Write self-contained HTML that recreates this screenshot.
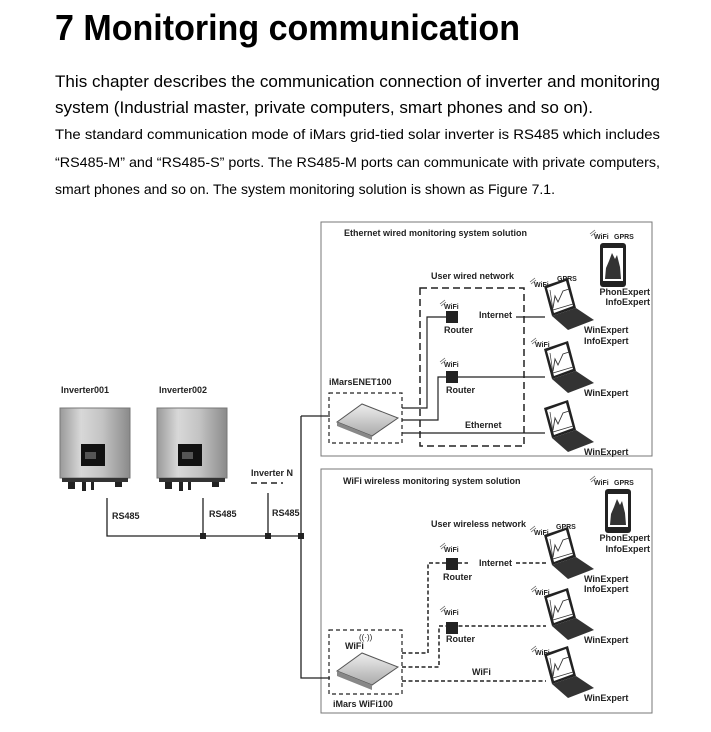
<!DOCTYPE html>
<html><head><meta charset="utf-8"><style>
html,body{margin:0;padding:0;background:#fff;width:711px;height:732px;overflow:hidden}
svg{display:block;font-family:"Liberation Sans",sans-serif}
</style></head><body>
<svg width="711" height="732" viewBox="0 0 711 732" xmlns="http://www.w3.org/2000/svg">
<defs>
<linearGradient id="inv" x1="0" x2="1"><stop offset="0" stop-color="#9a9a9a"/><stop offset="0.3" stop-color="#d8d8d8"/><stop offset="0.6" stop-color="#c4c4c4"/><stop offset="1" stop-color="#8a8a8a"/></linearGradient>
<linearGradient id="dev" x1="0" y1="0" x2="0" y2="1"><stop offset="0" stop-color="#eee"/><stop offset="1" stop-color="#aaa"/></linearGradient>
<g id="laptop">
<polygon points="4,8 28,0 36,30 12,38" fill="#222"/>
<polygon points="7,10 26,3 33,28 14,35" fill="#fff"/>
<polyline points="13,30 15,18 18,24 23,13 29,11" fill="none" stroke="#333" stroke-width="0.9"/>
<polyline points="10,12 13,32 33,26" fill="none" stroke="#333" stroke-width="0.7"/>
<polygon points="12,38 36,30 54,42 28,52" fill="#333"/>
</g>
<g id="inverter">
<rect x="0" y="0" width="70" height="70" fill="url(#inv)" stroke="#777"/>
<rect x="21" y="36" width="24" height="22" fill="#111"/>
<rect x="25" y="44" width="11" height="7" fill="#555"/>
<rect x="2" y="70" width="66" height="4" fill="#333"/>
<rect x="8" y="74" width="7" height="7" fill="#222"/><rect x="22" y="74" width="4" height="9" fill="#222"/><rect x="31" y="74" width="3" height="8" fill="#222"/><rect x="55" y="74" width="7" height="5" fill="#222"/>
</g>
<g id="wifi"><text x="4" y="9" font-size="7" font-weight="bold">WiFi</text><path d="M0,4 l5,-4 M1,6 l5,-4" stroke="#555" stroke-width="0.7"/></g>
<g id="phone"><rect x="0" y="0" width="26" height="44" rx="3" fill="#222"/><rect x="3" y="5" width="20" height="33" fill="#fff"/><path d="M5,36 L6,25 9,18 12,10 15,16 17,12 20,24 21,36Z" fill="#333"/></g>
</defs>

<text x="55" y="40" font-size="36" font-weight="bold" textLength="465" lengthAdjust="spacingAndGlyphs">7 Monitoring communication</text>
<text x="55" y="87" font-size="17" textLength="605" lengthAdjust="spacingAndGlyphs">This chapter describes the communication connection of inverter and monitoring</text>
<text x="55" y="113" font-size="17" textLength="538" lengthAdjust="spacingAndGlyphs">system (Industrial master, private computers, smart phones and so on).</text>
<text x="55" y="139" font-size="14" textLength="605" lengthAdjust="spacingAndGlyphs">The standard communication mode of iMars grid-tied solar inverter is RS485 which includes</text>
<text x="55" y="167" font-size="14" textLength="605" lengthAdjust="spacingAndGlyphs">“RS485-M” and “RS485-S” ports. The RS485-M ports can communicate with private computers,</text>
<text x="55" y="194" font-size="14" textLength="500" lengthAdjust="spacingAndGlyphs">smart phones and so on. The system monitoring solution is shown as Figure 7.1.</text>

<g font-size="9" font-weight="bold" fill="#222">
<rect x="321" y="222" width="331" height="234" fill="none" stroke="#777"/>
<rect x="321" y="469" width="331" height="244" fill="none" stroke="#777"/>
<text x="344" y="236">Ethernet wired monitoring system solution</text>
<text x="343" y="484">WiFi wireless monitoring system solution</text>

<text x="61" y="393">Inverter001</text>
<text x="159" y="393">Inverter002</text>
<use href="#inverter" x="60" y="408"/>
<use href="#inverter" x="157" y="408"/>
<text x="251" y="476">Inverter N</text>
<path d="M251,483 h32" stroke="#222" stroke-width="1.5" stroke-dasharray="6,4"/>
<path d="M107,498 V536 H301 M203,498 V536 M268,493 V536 M301,416 V678 H330 M301,416 H330" fill="none" stroke="#222" stroke-width="1.3"/>
<rect x="200" y="533" width="6" height="6"/><rect x="265" y="533" width="6" height="6"/><rect x="298" y="533" width="6" height="6"/>
<text x="112" y="519">RS485</text><text x="209" y="517">RS485</text><text x="272" y="516">RS485</text>

<use href="#wifi" x="590" y="230"/><text x="614" y="239" font-size="7">GPRS</text>
<use href="#phone" x="600" y="243"/>
<text x="650" y="295" text-anchor="end">PhonExpert</text><text x="650" y="305" text-anchor="end">InfoExpert</text>
<text x="431" y="279">User wired network</text>
<rect x="420" y="288" width="104" height="158" fill="none" stroke="#222" stroke-width="1.5" stroke-dasharray="7,4"/>
<text x="329" y="385">iMarsENET100</text>
<rect x="329" y="393" width="73" height="50" fill="none" stroke="#222" stroke-width="1.2" stroke-dasharray="4,3"/>
<polygon points="337,422 362,404 398,418 372,436" fill="url(#dev)" stroke="#555"/><polygon points="337,422 372,436 372,440 337,426" fill="#888"/>
<use href="#wifi" x="440" y="300"/><use href="#wifi" x="440" y="358"/>
<rect x="446" y="311" width="12" height="12"/><rect x="446" y="371" width="12" height="12"/>
<text x="444" y="333">Router</text><text x="446" y="393">Router</text>
<text x="479" y="318">Internet</text>
<text x="465" y="428">Ethernet</text>
<path d="M402,408 H427 V317 H446 M516,317 H545 M402,420 H438 V377 H545 M402,433 H545" fill="none" stroke="#222" stroke-width="1.2"/>
<use href="#wifi" x="530" y="278"/><text x="557" y="281" font-size="7">GPRS</text>
<use href="#wifi" x="531" y="338"/>
<use href="#laptop" x="540" y="278"/><use href="#laptop" x="540" y="341"/><use href="#laptop" x="540" y="400"/>
<text x="584" y="333">WinExpert</text><text x="584" y="344">InfoExpert</text>
<text x="584" y="396">WinExpert</text><text x="584" y="455">WinExpert</text>

<use href="#wifi" x="590" y="476"/><text x="614" y="485" font-size="7">GPRS</text>
<use href="#phone" x="605" y="489"/>
<text x="650" y="541" text-anchor="end">PhonExpert</text><text x="650" y="552" text-anchor="end">InfoExpert</text>
<text x="431" y="527">User wireless network</text>
<use href="#wifi" x="530" y="526"/><text x="556" y="529" font-size="7">GPRS</text>
<use href="#wifi" x="440" y="543"/><use href="#wifi" x="440" y="606"/>
<rect x="446" y="558" width="12" height="12"/><rect x="446" y="622" width="12" height="12"/>
<text x="443" y="580">Router</text><text x="446" y="642">Router</text>
<text x="479" y="566">Internet</text><text x="472" y="675">WiFi</text>
<path d="M402,653 H428 V563 H446 M458,563 H468 M516,563 H546 M402,667 H439 V626 H546 M402,681 H546" fill="none" stroke="#222" stroke-width="1.5" stroke-dasharray="4,2.5"/>
<rect x="329" y="630" width="73" height="64" fill="none" stroke="#222" stroke-width="1.2" stroke-dasharray="4,3"/>
<text x="345" y="649">WiFi</text><text x="359" y="640" font-size="8" font-weight="normal">((·))</text>
<polygon points="337,671 362,653 398,667 372,685" fill="url(#dev)" stroke="#555"/><polygon points="337,671 372,685 372,690 337,676" fill="#888"/>
<text x="333" y="707">iMars WiFi100</text>
<use href="#wifi" x="531" y="586"/><use href="#wifi" x="531" y="646"/>
<use href="#laptop" x="540" y="527"/><use href="#laptop" x="540" y="588"/><use href="#laptop" x="540" y="646"/>
<text x="584" y="582">WinExpert</text><text x="584" y="592">InfoExpert</text>
<text x="584" y="643">WinExpert</text><text x="584" y="701">WinExpert</text>
</g>
</svg>
</body></html>
